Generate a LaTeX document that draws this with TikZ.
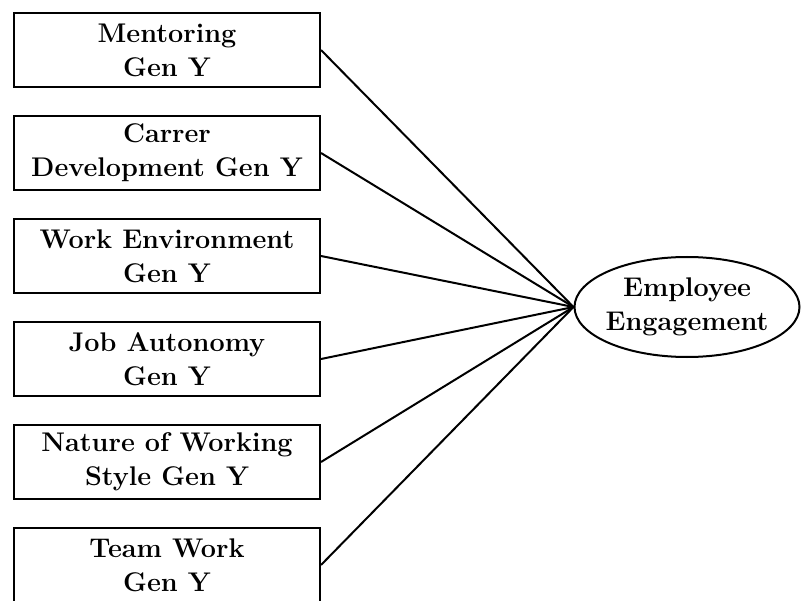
\documentclass[tikz,border=0pt]{standalone}
\usepackage{tikz}
\usetikzlibrary{shapes.geometric}

\begin{document}
\begin{tikzpicture}[x=1pt,y=1pt,
    factor/.style={draw, line width=2pt, minimum width=306pt, minimum height=74pt,
        inner sep=0pt, align=center, font=\bfseries\fontsize{27}{34}\selectfont},
    outcome/.style={draw, ellipse, line width=2pt, minimum width=225pt, minimum height=100pt,
        inner sep=0pt, inner xsep=-20pt, align=center, font=\bfseries\fontsize{27}{34}\selectfont},
    link/.style={line width=2pt}]
                \useasboundingbox (0,0) rectangle (802,600);

                % factors Gen Y
                \node[factor] (mentor) at (167,550) {Mentoring\\Gen Y};
                \node[factor] (career) at (167,447) {Carrer\\Development Gen Y};
                \node[factor] (environ) at (167,344) {Work Environment\\Gen Y};
                \node[factor] (autonomy) at (167,241) {Job Autonomy\\Gen Y};
                \node[factor] (style) at (167,138) {Nature of Working\\Style Gen Y};
                \node[factor] (team) at (167,35) {Team Work\\Gen Y};

                % engagement
                \node[outcome] (engage) at (687,293) {Employee\\Engagement};

                % links
                \draw[link] (mentor.east) -- (engage.west);
                \draw[link] (career.east) -- (engage.west);
                \draw[link] (environ.east) -- (engage.west);
                \draw[link] (autonomy.east) -- (engage.west);
                \draw[link] (style.east) -- (engage.west);
                \draw[link] (team.east) -- (engage.west);

\end{tikzpicture}
\end{document}
